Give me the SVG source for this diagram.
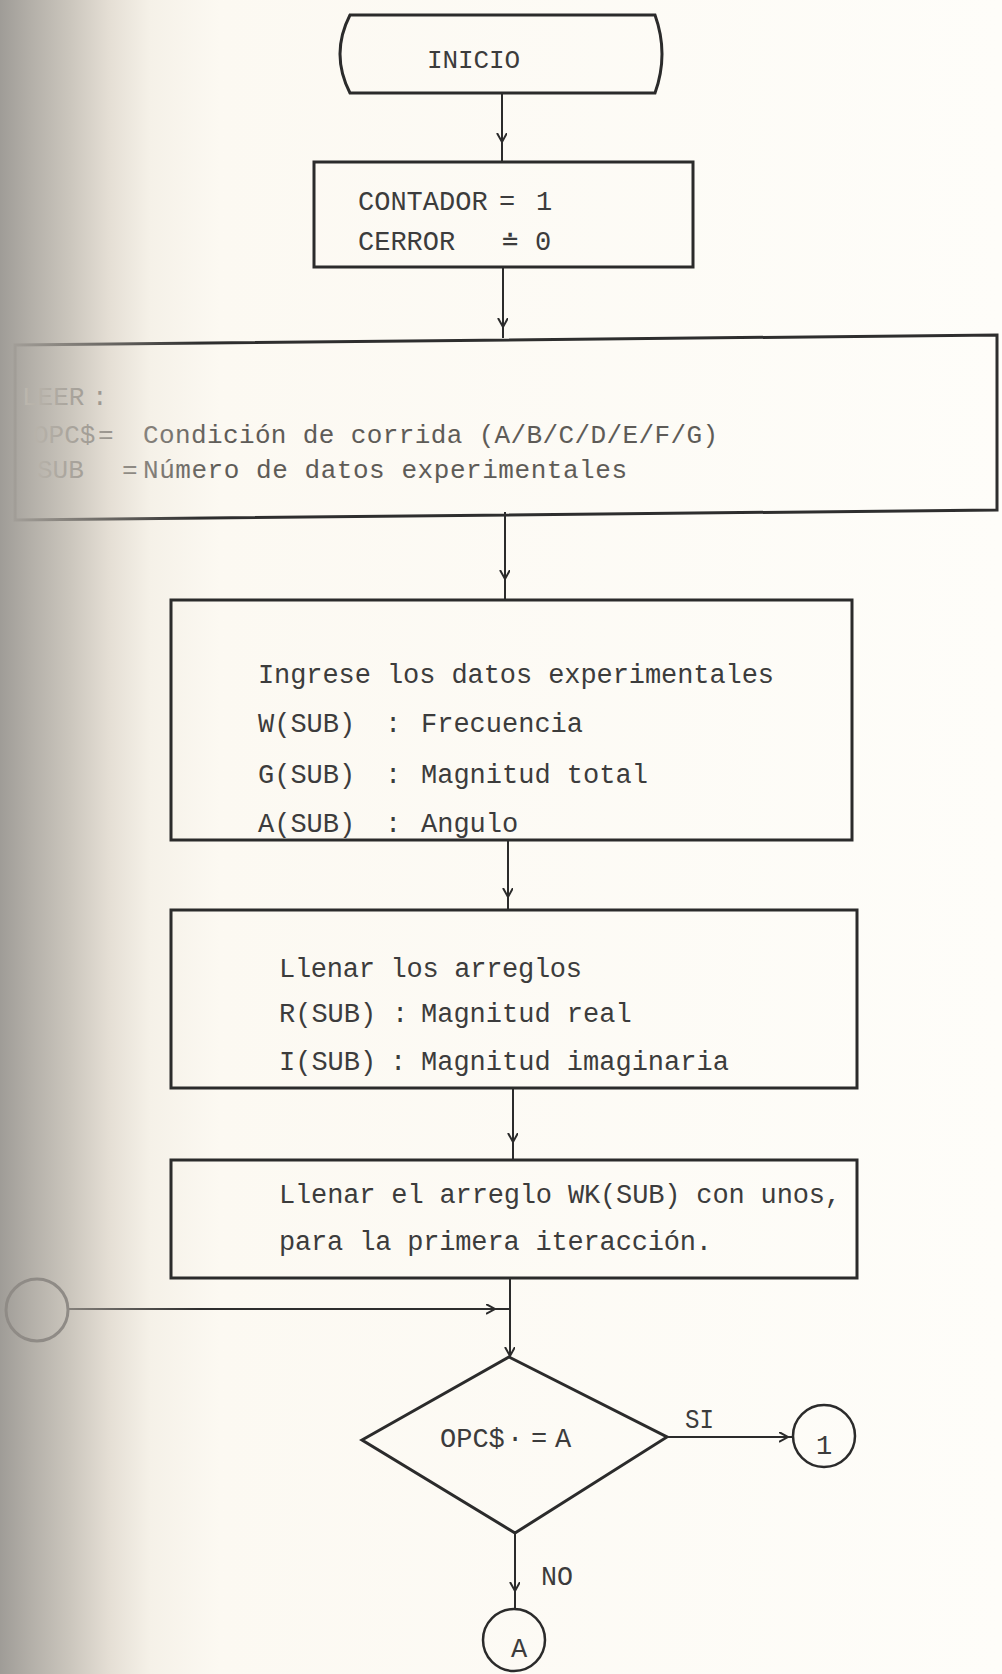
<svg xmlns="http://www.w3.org/2000/svg" width="1002" height="1674" viewBox="0 0 1002 1674">
<defs>
<linearGradient id="bg" x1="0" y1="0" x2="1002" y2="0" gradientUnits="userSpaceOnUse">
<stop offset="0" stop-color="#9f9c97"/>
<stop offset="0.03" stop-color="#b3afa8"/>
<stop offset="0.07" stop-color="#cbc6bd"/>
<stop offset="0.11" stop-color="#e5dfd5"/>
<stop offset="0.15" stop-color="#f5f1e8"/>
<stop offset="0.22" stop-color="#fcf9f2"/>
<stop offset="1" stop-color="#fefdf9"/>
</linearGradient>
<linearGradient id="fadeStroke" x1="0" y1="0" x2="200" y2="0" gradientUnits="userSpaceOnUse">
<stop offset="0" stop-color="#a9a59f"/>
<stop offset="0.3" stop-color="#8a8680"/>
<stop offset="1" stop-color="#2e2e2e"/>
</linearGradient>
<linearGradient id="fadeText" x1="20" y1="0" x2="220" y2="0" gradientUnits="userSpaceOnUse">
<stop offset="0" stop-color="#bdb8af"/>
<stop offset="0.45" stop-color="#9a958e"/>
<stop offset="1" stop-color="#5e5b57"/>
</linearGradient>
<marker id="arr" markerUnits="userSpaceOnUse" markerWidth="12" markerHeight="12" refX="9" refY="5" orient="auto">
<path d="M0,0 L9,5 L0,10" fill="none" stroke="#2b2b2b" stroke-width="2"/>
</marker>
<style>
.box{fill:none;stroke:#2b2b2b;stroke-width:3}
.ln{fill:none;stroke:#2b2b2b;stroke-width:2}
.t{font-family:"Liberation Mono","Courier New",monospace;font-size:27px;fill:#3c3c3c}
.s{font-size:26px}
.g{fill:url(#fadeText)}
</style>
</defs>
<rect x="0" y="0" width="1002" height="1674" fill="url(#bg)"/>

<g id="connectors">
<path class="ln" d="M502 93 V142" marker-end="url(#arr)"/>
<path class="ln" d="M502 142 V162"/>
<path class="ln" d="M503 267 V327" marker-end="url(#arr)"/>
<path class="ln" d="M503 327 V338"/>
<path class="ln" d="M505 512 V579" marker-end="url(#arr)"/>
<path class="ln" d="M505 579 V600"/>
<path class="ln" d="M508 840 V897" marker-end="url(#arr)"/>
<path class="ln" d="M508 897 V910"/>
<path class="ln" d="M513 1088 V1142" marker-end="url(#arr)"/>
<path class="ln" d="M513 1142 V1160"/>
<path class="ln" d="M510 1278 V1356" marker-end="url(#arr)"/>
<path class="ln" d="M68 1309 H495" style="stroke:url(#fadeStroke)" marker-end="url(#arr)"/>
<path class="ln" d="M495 1309 H510"/>
<path class="ln" d="M667 1437 H788" marker-end="url(#arr)"/>
<path class="ln" d="M788 1437 H793"/>
<path class="ln" d="M515 1533 V1591" marker-end="url(#arr)"/>
<path class="ln" d="M515 1591 V1608"/>
<text class="t" x="685" y="1428" textLength="29" lengthAdjust="spacingAndGlyphs">SI</text>
<text class="t" x="541" y="1585" textLength="32" lengthAdjust="spacingAndGlyphs">NO</text>
</g>

<g id="inicio">
<path class="box" d="M350 15 L655 15 Q669 54 655 93 L350 93 Q330 54 350 15 Z"/>
<text class="t s" x="427" y="68" textLength="93">INICIO</text>
</g>

<g id="init">
<rect class="box" x="314" y="162" width="379" height="105"/>
<text class="t" y="210"><tspan x="358">CONTADOR</tspan><tspan x="499">=</tspan><tspan x="536">1</tspan></text>
<text class="t" y="250"><tspan x="358">CERROR</tspan><tspan x="502">≐</tspan><tspan x="535">0</tspan></text>
</g>

<g id="leer">
<polygon class="box" points="15,345 997,335 997,510 15,520" style="stroke:url(#fadeStroke)"/>
<text class="t s g" y="405"><tspan x="22">LEER</tspan><tspan x="92">:</tspan></text>
<text class="t s g" y="443"><tspan x="33">OPC$</tspan><tspan x="98">=</tspan></text>
<text class="t s g" x="143" y="443" textLength="575">Condición de corrida (A/B/C/D/E/F/G)</text>
<text class="t s g" y="478"><tspan x="37">SUB</tspan><tspan x="122">=</tspan></text>
<text class="t s g" x="143" y="478" textLength="484">Número de datos experimentales</text>
</g>

<g id="ingrese">
<rect class="box" x="171" y="600" width="681" height="240"/>
<text class="t" x="258" y="683" textLength="516">Ingrese los datos experimentales</text>
<text class="t" y="732"><tspan x="258">W(SUB)</tspan><tspan x="385">:</tspan><tspan x="421">Frecuencia</tspan></text>
<text class="t" y="783"><tspan x="258">G(SUB)</tspan><tspan x="385">:</tspan><tspan x="421">Magnitud total</tspan></text>
<text class="t" y="832"><tspan x="258">A(SUB)</tspan><tspan x="385">:</tspan><tspan x="421">Angulo</tspan></text>
</g>

<g id="llenar">
<rect class="box" x="171" y="910" width="686" height="178"/>
<text class="t" x="279" y="977" textLength="303">Llenar los arreglos</text>
<text class="t" y="1022"><tspan x="279">R(SUB)</tspan><tspan x="392">:</tspan><tspan x="421">Magnitud real</tspan></text>
<text class="t" y="1070"><tspan x="279">I(SUB)</tspan><tspan x="390">:</tspan><tspan x="421">Magnitud imaginaria</tspan></text>
</g>

<g id="llenarwk">
<rect class="box" x="171" y="1160" width="686" height="118"/>
<text class="t" x="279" y="1203" textLength="562">Llenar el arreglo WK(SUB) con unos,</text>
<text class="t" x="279" y="1250" textLength="433">para la primera iteracción.</text>
</g>

<g id="conector-izq">
<circle cx="37" cy="1310" r="31" fill="none" stroke="#8f8b86" stroke-width="3"/>
</g>

<g id="decision">
<polygon class="box" points="509,1357 667,1437 515,1533 362,1440"/>
<text class="t" y="1447"><tspan x="440">OPC$</tspan><tspan x="507">·</tspan><tspan x="531">=</tspan><tspan x="555">A</tspan></text>
</g>

<g id="conector-1">
<circle cx="824" cy="1436" r="31" fill="none" stroke="#2b2b2b" stroke-width="2.5"/>
<text class="t" x="824" y="1454" text-anchor="middle">1</text>
</g>

<g id="conector-a">
<circle cx="514" cy="1640" r="31" fill="none" stroke="#2b2b2b" stroke-width="2.5"/>
<text class="t" x="519" y="1657" text-anchor="middle">A</text>
</g>
</svg>
